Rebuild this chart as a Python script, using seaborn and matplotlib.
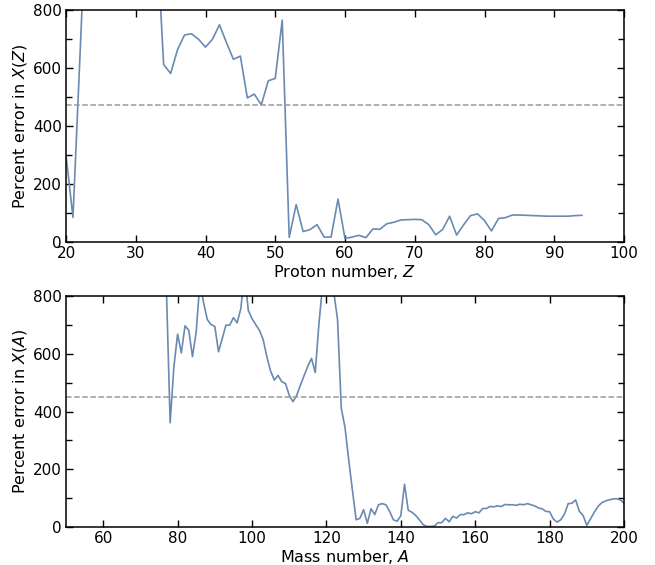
import numpy as np
import pandas as pd
import matplotlib
matplotlib.use("Agg")
import matplotlib.pyplot as plt
import seaborn as sns
from matplotlib.ticker import MultipleLocator

# ---- data ----
Z = list(range(20, 95))
err_Z = [300, 85, 640, 1200, 1500, 1600, 1700, 1650, 1600, 1500, 1400, 1300, 1200, 1060,
         612, 581, 664, 714, 718, 699, 672, 699, 749, 688, 630, 641, 497, 510, 473, 556,
         564, 765, 16, 129, 36, 43, 60, 17, 17, 148, 12, 17, 23, 15, 45, 44, 63, 68, 76,
         77, 78, 77, 60, 25, 43, 89, 24, 59, 91, 97, 74, 38, 81, 84, 93, 93, 92, 91, 90,
         89, 89, 89, 89, 91, 92]

A = list(range(76, 201))
err_A = [1200, 820, 361, 555, 668, 603, 697, 681, 590, 676, 850, 776, 718, 701, 695, 607,
         653, 699, 699, 725, 707, 756, 880, 750, 722, 701, 681, 649, 589, 540, 509, 525,
         503, 497, 457, 434, 455, 491, 524, 557, 584, 535, 705, 840, 950, 900, 812, 718,
         411, 345, 232, 127, 25, 30, 60, 13, 63, 43, 77, 81, 77, 54, 25, 20, 39, 148, 58,
         51, 40, 25, 8, 2, 2, 3, 15, 15, 30, 18, 37, 31, 43, 43, 49, 46, 53, 49, 64, 64,
         71, 70, 73, 71, 78, 77, 77, 75, 79, 77, 81, 77, 73, 66, 63, 54, 53, 28, 17, 25,
         45, 81, 82, 94, 54, 40, 6, 28, 51, 71, 84, 90, 94, 97, 98, 94, 83]

ref_Z = 471
ref_A = 450

dfZ = pd.DataFrame({"Z": Z, "err": err_Z})
dfA = pd.DataFrame({"A": A, "err": err_A})

sns.set_style("ticks")
plt.rcParams['font.family'] = ['DejaVu Sans']
plt.rcParams['font.size'] = 11.5
plt.rcParams['text.color'] = 'black'
plt.rcParams['axes.labelcolor'] = 'black'
plt.rcParams['xtick.color'] = 'black'
plt.rcParams['ytick.color'] = 'black'

line_color = "#6a8ab2"
fs = 11.5
tfs = 11

fig = plt.figure(figsize=(6.55, 5.65), dpi=100)
ax1 = fig.add_axes([66/655, 1-242/565, (624-66)/655, (242-10)/565])
ax2 = fig.add_axes([66/655, 1-527/565, (624-66)/655, (527-296)/565])

sns.lineplot(data=dfZ, x="Z", y="err", ax=ax1, color=line_color, linewidth=1.2)
ax1.axhline(ref_Z, color="#999999", linestyle="--", linewidth=1.1)
ax1.set_xlim(20, 100)
ax1.set_ylim(0, 800)
ax1.xaxis.set_major_locator(MultipleLocator(10))
ax1.set_xlabel("Proton number, $Z$", fontsize=fs, labelpad=1)
ax1.set_ylabel("Percent error in $X(Z)$", fontsize=fs, labelpad=2.5)

sns.lineplot(data=dfA, x="A", y="err", ax=ax2, color=line_color, linewidth=1.2)
ax2.axhline(ref_A, color="#999999", linestyle="--", linewidth=1.1)
ax2.set_xlim(50, 200)
ax2.set_ylim(0, 800)
ax2.xaxis.set_major_locator(MultipleLocator(20))
ax2.set_xlabel("Mass number, $A$", fontsize=fs, labelpad=1)
ax2.set_ylabel("Percent error in $X(A)$", fontsize=fs, labelpad=2.5)

for ax in (ax1, ax2):
    ax.yaxis.set_major_locator(MultipleLocator(200))
    ax.yaxis.set_minor_locator(MultipleLocator(100))
    ax.tick_params(which="both", direction="in", top=True, right=True, labelsize=tfs,
                   color="black", labelcolor="black", width=1)
    ax.tick_params(which="major", length=5, pad=3)
    ax.tick_params(which="minor", length=4, axis="y")
    ax.tick_params(which="minor", axis="x", length=0)
    for s in ax.spines.values():
        s.set_color("black")
        s.set_linewidth(1.1)

fig.savefig("out.png", dpi=100)
